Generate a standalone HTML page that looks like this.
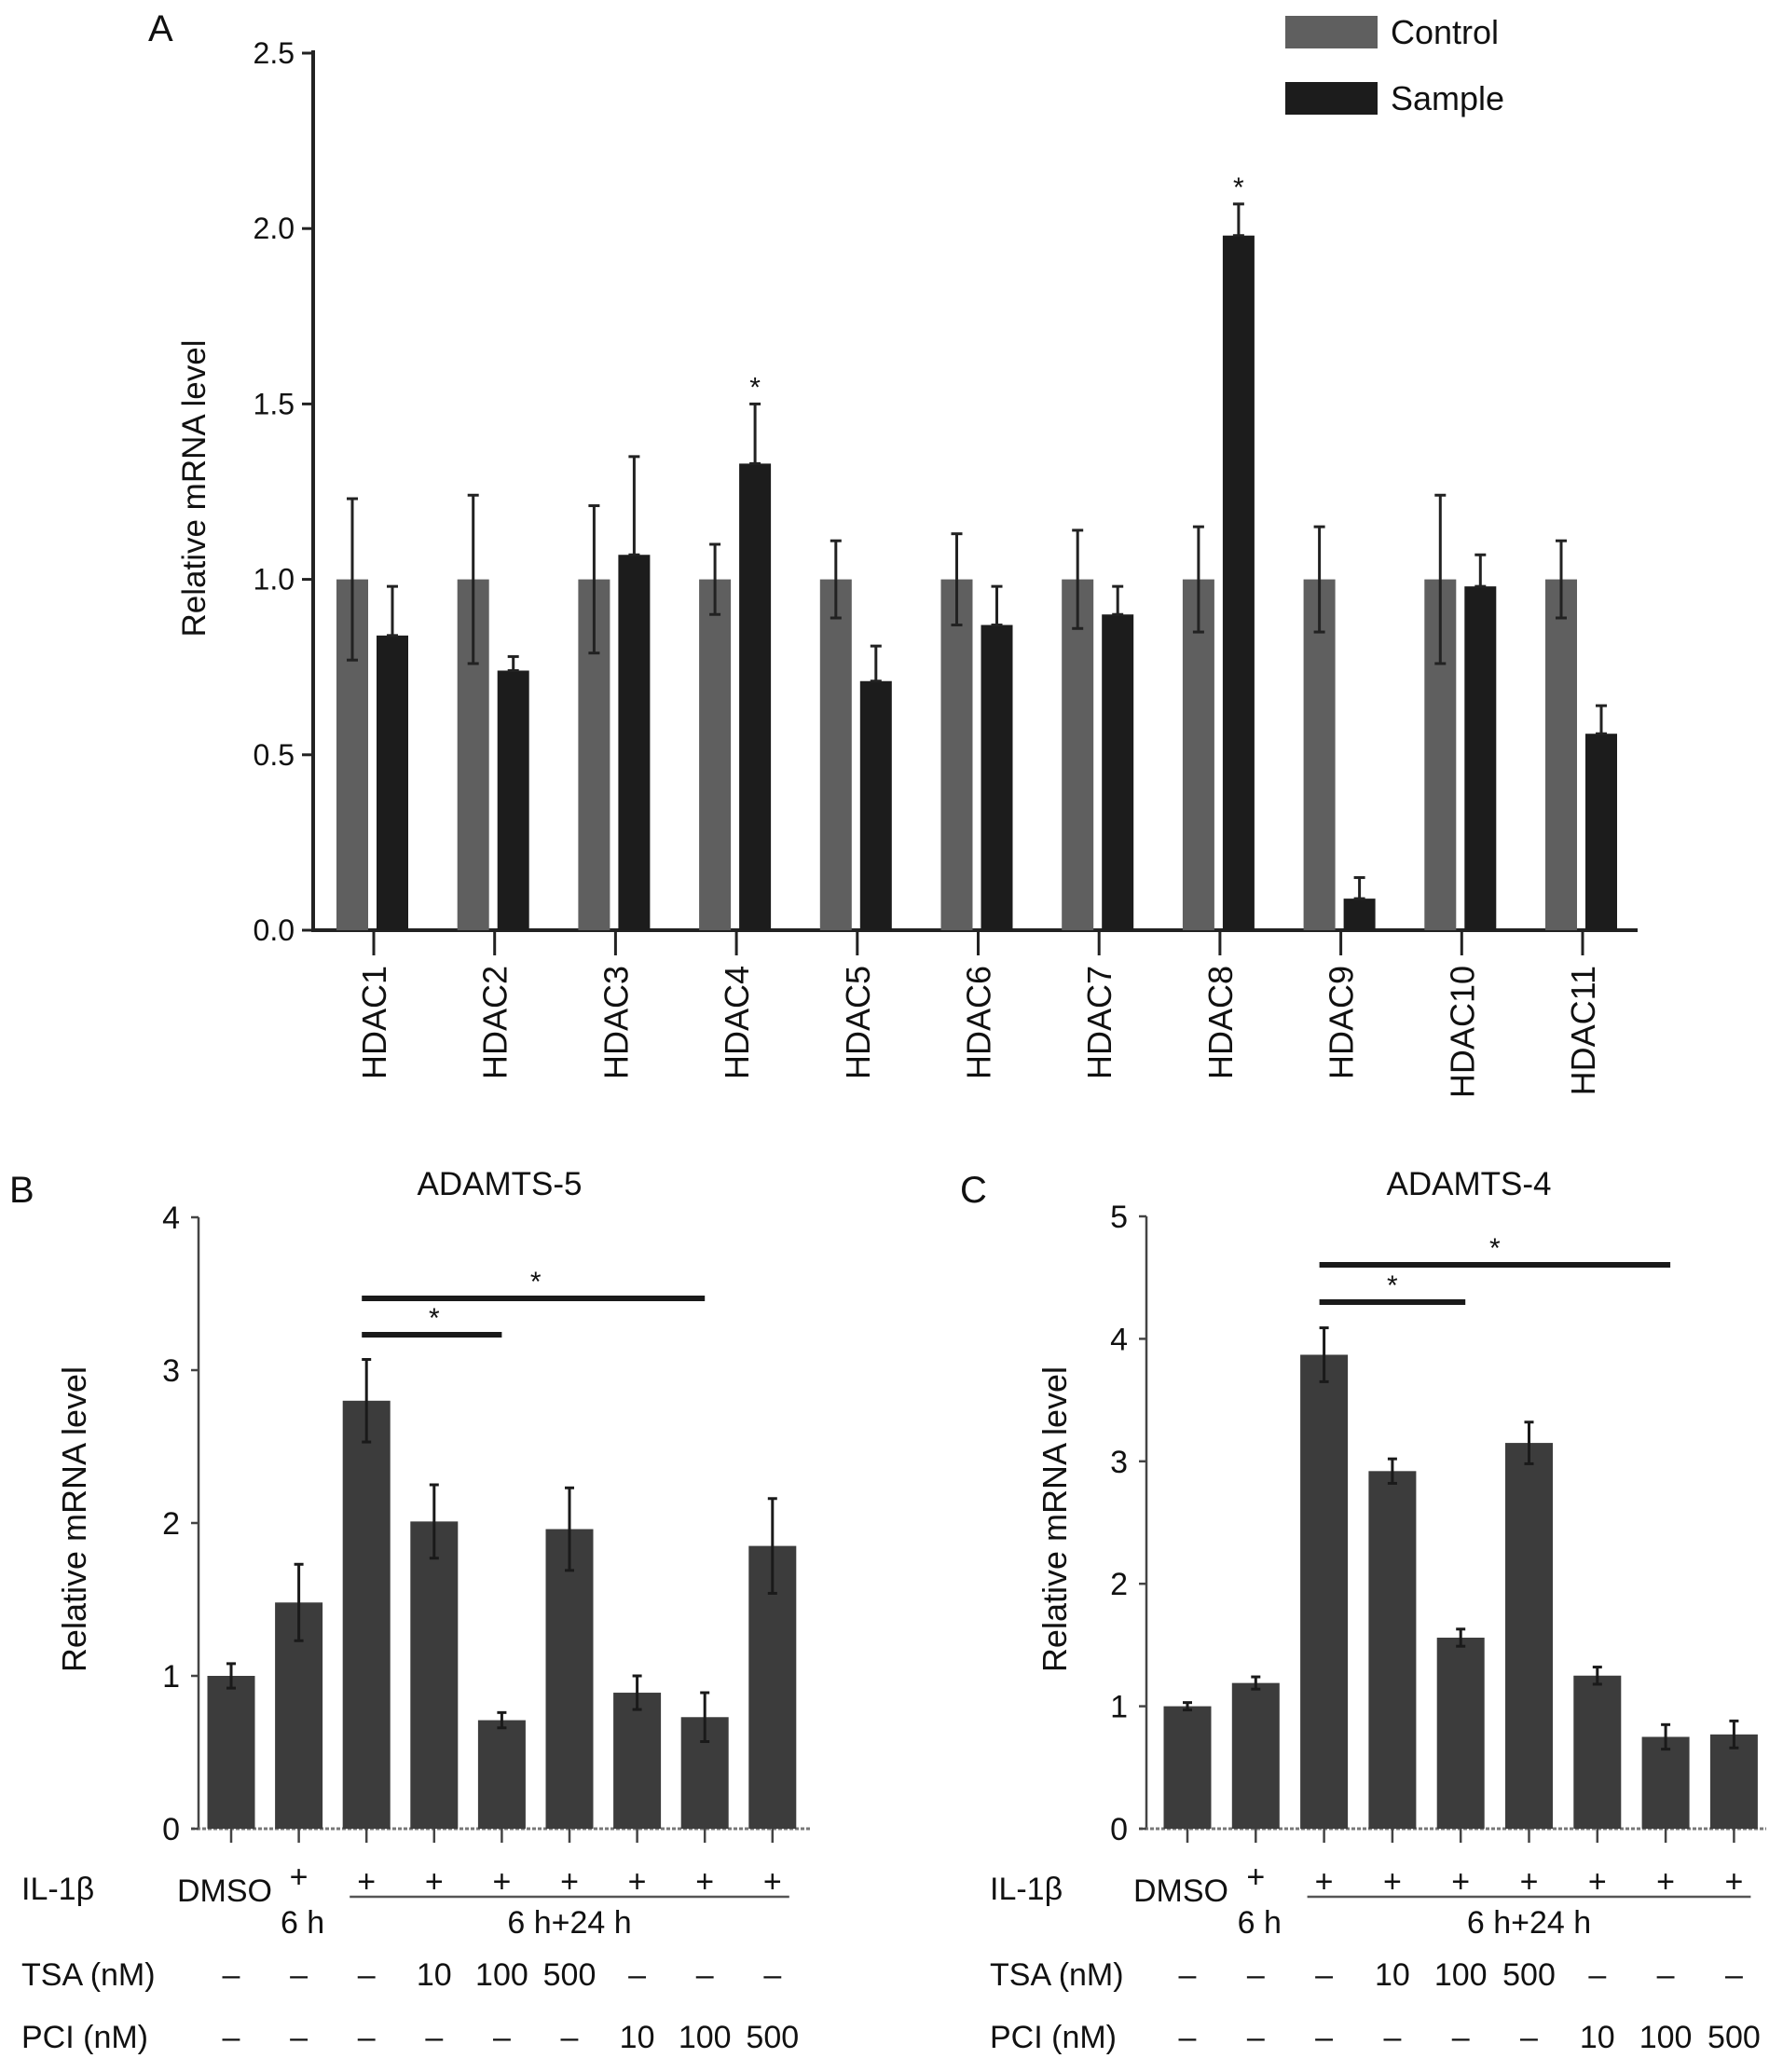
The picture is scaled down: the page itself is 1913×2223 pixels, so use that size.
<!DOCTYPE html>
<html><head><meta charset="utf-8"><style>
html,body{margin:0;padding:0;background:#fff}
svg{display:block}
text{font-family:"Liberation Sans Narrow","Liberation Sans",sans-serif;fill:#111}
</style></head><body>
<svg id="fig" width="1913" height="2223" viewBox="0 0 1913 2223" xmlns="http://www.w3.org/2000/svg"></svg>
<script>
// Panel A data
const hdacCats = ["HDAC1","HDAC2","HDAC3","HDAC4","HDAC5","HDAC6","HDAC7","HDAC8","HDAC9","HDAC10","HDAC11"];
const controlVals = [1,1,1,1,1,1,1,1,1,1,1];
const controlErr = [0.23,0.24,0.21,0.10,0.11,0.13,0.14,0.15,0.15,0.24,0.11];
const sampleVals = [0.84,0.74,1.07,1.33,0.71,0.87,0.90,1.98,0.09,0.98,0.56];
const sampleErr = [0.14,0.04,0.28,0.17,0.10,0.11,0.08,0.09,0.06,0.09,0.08];
const sampleSig = [false,false,false,true,false,false,false,true,false,false,false];
const aTicks = ["0.0","0.5","1.0","1.5","2.0","2.5"];
// Panel B data
const bVals = [1.0,1.48,2.80,2.01,0.71,1.96,0.89,0.73,1.85];
const bErr = [0.08,0.25,0.27,0.24,0.05,0.27,0.11,0.16,0.31];
const bTicks = ["0","1","2","3","4"];
// Panel C data
const cVals = [1.0,1.19,3.87,2.92,1.56,3.15,1.25,0.75,0.77];
const cErr = [0.03,0.05,0.22,0.10,0.07,0.17,0.07,0.10,0.11];
const cTicks = ["0","1","2","3","4","5"];
const tsaRow = ["–","–","–","10","100","500","–","–","–"];
const pciRow = ["–","–","–","–","–","–","10","100","500"];

const svg = document.getElementById('fig');
const NS = "http://www.w3.org/2000/svg";
function mk(tag, attrs, name, parent){
  const e = document.createElementNS(NS, tag);
  for (const k in attrs) e.setAttribute(k, attrs[k]);
  
  
  (parent||svg).appendChild(e);
  return e;
}
function txt(x,y,s,size,name,anchor,extra){
  const t = mk('text', Object.assign({x:x,y:y,'font-size':size,'text-anchor':anchor||'start'}, extra||{}), name);
  t.textContent = s; return t;
}
function errbar(x,yTop,yBot,cap,name,color){
  const g = mk('g',{stroke:color||'#222','stroke-width':3},name);
  mk('line',{x1:x,y1:yTop,x2:x,y2:yBot},name+'-stem',g);
  mk('line',{x1:x-cap,y1:yTop,x2:x+cap,y2:yTop},name+'-cap',g);
  mk('line',{x1:x-cap,y1:yBot,x2:x+cap,y2:yBot},name+'-cap-low',g);
}

// ---------- Panel A ----------
(function(){
  const x0=336, y0=998, yTop=57, maxV=2.5;
  const ya = v => y0 - v/maxV*(y0-yTop);
  const cx0 = 401, step = 129.7, bw = 34;
  const xa = i => cx0 + i*step;
  txt(159,44,"A",40,'panel-a-label');
  mk('line',{x1:x0,y1:yTop-3,x2:x0,y2:y0+2,stroke:'#222','stroke-width':4},'a-y-axis');
  mk('line',{x1:x0-2,y1:y0,x2:1757,y2:y0,stroke:'#222','stroke-width':4},'a-x-axis');
  aTicks.forEach((t,i)=>{
    const v = parseFloat(t), y = ya(v);
    mk('line',{x1:x0-12,y1:y,x2:x0,y2:y,stroke:'#222','stroke-width':3},'a-y-tick');
    txt(x0-20,y+11,t,32,'a-y-tick-label','end');
  });
  txt(0,0,"Relative mRNA level",35,'a-y-axis-title','middle',{transform:'translate(220,524) rotate(-90)'});
  hdacCats.forEach((c,i)=>{
    const cx = xa(i);
    mk('line',{x1:cx,y1:y0,x2:cx,y2:y0+27,stroke:'#222','stroke-width':3},'a-x-tick');
    txt(0,0,c,36,'a-x-tick-label','end',{transform:`translate(${cx+13},${y0+38}) rotate(-90)`});
    const xc = cx-23, xs = cx+20;
    mk('rect',{x:xc-bw/2,y:ya(controlVals[i]),width:bw,height:y0-ya(controlVals[i]),fill:'#5f5f5f'},'bar-control-'+c.toLowerCase());
    errbar(xc,ya(controlVals[i]+controlErr[i]),ya(controlVals[i]-controlErr[i]),6,'error-control-'+c.toLowerCase());
    mk('rect',{x:xs-bw/2,y:ya(sampleVals[i]),width:bw,height:y0-ya(sampleVals[i]),fill:'#1c1c1c'},'bar-sample-'+c.toLowerCase());
    errbar(xs,ya(sampleVals[i]+sampleErr[i]),ya(sampleVals[i]),6,'error-sample-'+c.toLowerCase());
    if (sampleSig[i]) txt(xs,ya(sampleVals[i]+sampleErr[i])-8,"*",30,'a-significance-star','middle');
  });
  mk('rect',{x:1379,y:17,width:99,height:35,fill:'#5f5f5f'},'legend-control-swatch');
  txt(1492,47,"Control",36,'legend-control-label');
  mk('rect',{x:1379,y:88,width:99,height:35,fill:'#1c1c1c'},'legend-sample-swatch');
  txt(1492,118,"Sample",36,'legend-sample-label');
})();

// ---------- Panels B & C ----------
function panel(o){
  const {p,x0,y0,yTop,maxV,cx0,step,xEnd,vals,errs,ticks} = o;
  const ya = v => y0 - v/maxV*(y0-yTop);
  const xa = i => cx0 + i*step;
  const bw = 51;
  txt(o.labX,1290,p.toUpperCase(),40,'panel-'+p+'-label');
  txt(o.titleX,1282,o.title,35,'panel-'+p+'-title','middle');
  mk('line',{x1:x0,y1:yTop,x2:x0,y2:y0,stroke:'#444','stroke-width':2.5},p+'-y-axis');
  mk('line',{x1:x0-8,y1:y0,x2:xEnd,y2:y0,stroke:'#777','stroke-width':3,'stroke-dasharray':'4 2'},p+'-x-axis');
  ticks.forEach(t=>{
    const v = parseFloat(t), y = ya(v);
    mk('line',{x1:x0-8,y1:y,x2:x0,y2:y,stroke:'#444','stroke-width':2.5},p+'-y-tick');
    txt(x0-20,y+12,t,34,p+'-y-tick-label','end');
  });
  txt(0,0,"Relative mRNA level",36,p+'-y-axis-title','middle',{transform:`translate(${o.ytX},1630) rotate(-90)`});
  vals.forEach((v,i)=>{
    const cx = xa(i);
    mk('line',{x1:cx,y1:y0,x2:cx,y2:y0+15,stroke:'#444','stroke-width':2.5},p+'-x-tick');
    mk('rect',{x:cx-bw/2,y:ya(v),width:bw,height:y0-ya(v),fill:'#3c3c3c'},p+'-bar-'+(i+1));
    errbar(cx,ya(v+errs[i]),ya(v-errs[i]),5,p+'-error-'+(i+1),'#1a1a1a');
  });
  o.sig.forEach((s,k)=>{
    mk('line',{x1:xa(s[0])-5,y1:s[2],x2:xa(s[1])+o.sigEnd,y2:s[2],stroke:'#1a1a1a','stroke-width':6},p+'-significance-line');
    txt((xa(s[0])+xa(s[1]))/2,s[2]-8,"*",30,p+'-significance-star','middle');
  });
  txt(o.rowX,2038,"IL-1β",34,p+'-il1b-label');
  txt(xa(0)+44,2040,"DMSO",34,p+'-dmso-label','end');
  vals.forEach((v,i)=>{ if(i>0) txt(xa(i),i===1?2025:2030,"+",34,p+'-il1b-plus','middle'); });
  mk('line',{x1:xa(2)-18,y1:2035,x2:xa(8)+18,y2:2035,stroke:'#555','stroke-width':2.5},p+'-timeline');
  txt(xa(1)+4,2074,"6 h",34,p+'-6h-label','middle');
  txt((xa(2)+xa(8))/2,2074,"6 h+24 h",34,p+'-6h24h-label','middle');
  txt(o.rowX,2130,"TSA (nM)",34,p+'-tsa-label');
  txt(o.rowX,2197,"PCI (nM)",34,p+'-pci-label');
  tsaRow.forEach((s,i)=>txt(xa(i),2130,s,34,p+'-tsa-value','middle'));
  pciRow.forEach((s,i)=>txt(xa(i),2197,s,34,p+'-pci-value','middle'));
}
panel({p:'b',x0:213,y0:1962,yTop:1306,maxV:4,cx0:248,step:72.6,xEnd:870,vals:bVals,errs:bErr,ticks:bTicks,
  labX:10,titleX:536,title:"ADAMTS-5",ytX:92,rowX:23,sigEnd:0,sig:[[2,4,1432],[2,7,1393]]});
panel({p:'c',x0:1230,y0:1962,yTop:1305,maxV:5,cx0:1274,step:73.3,xEnd:1895,vals:cVals,errs:cErr,ticks:cTicks,
  labX:1030,titleX:1576,title:"ADAMTS-4",ytX:1144,rowX:1062,sigEnd:5,sig:[[2,4,1397],[2,7,1357]]});
</script>
</body></html>
